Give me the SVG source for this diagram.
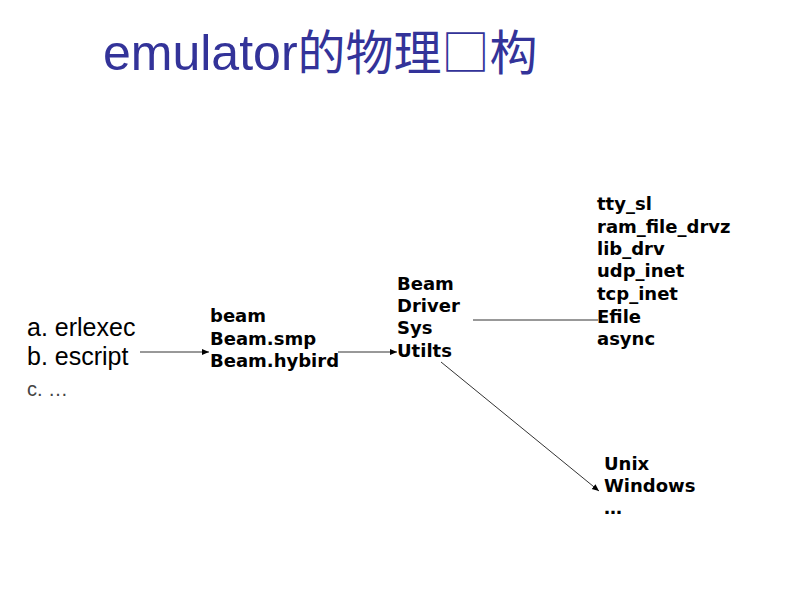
<svg xmlns="http://www.w3.org/2000/svg" width="800" height="600" viewBox="0 0 800 600">
<defs>
<style>
.title{font-family:"Liberation Sans","Noto Sans CJK SC",sans-serif;font-size:50px;fill:#333399}
.cjk{font-family:"Noto Sans CJK SC",sans-serif;font-size:48px}
.lst{font-family:"Liberation Sans",sans-serif;font-size:25px;fill:#000}
.b{font-family:"DejaVu Sans",sans-serif;font-weight:bold;font-size:18px;fill:#000}
.ln{stroke:#333;stroke-width:1;fill:none}
</style>
<marker id="ah" markerWidth="8" markerHeight="8" refX="7" refY="4" orient="auto" markerUnits="userSpaceOnUse">
<path d="M0,1 L7,4 L0,7 Z" fill="#000"/>
</marker>
</defs>
<rect width="800" height="600" fill="#fff"/>
<text class="title" x="103" y="70">emulator<tspan class="cjk">的物理□构</tspan></text>
<g id="launchers">
<text class="lst" x="27" y="336">a. erlexec</text>
<text class="lst" x="27" y="365">b. escript</text>
<text class="lst" x="27" y="396" style="font-size:20px;fill:#444">c. …</text>
</g>
<g id="beam">
<text class="b" x="210" y="322">beam</text>
<text class="b" x="210" y="345">Beam.smp</text>
<text class="b" x="210" y="367">Beam.hybird</text>
</g>
<g id="modules">
<text class="b" x="397" y="290">Beam</text>
<text class="b" x="397" y="312">Driver</text>
<text class="b" x="397" y="334">Sys</text>
<text class="b" x="397" y="357">Utilts</text>
</g>
<g id="drivers">
<text class="b" x="597" y="210">tty_sl</text>
<text class="b" x="597" y="233">ram_file_drvz</text>
<text class="b" x="597" y="255">lib_drv</text>
<text class="b" x="597" y="277">udp_inet</text>
<text class="b" x="597" y="300">tcp_inet</text>
<text class="b" x="597" y="323">Efile</text>
<text class="b" x="597" y="345">async</text>
</g>
<g id="os">
<text class="b" x="604" y="470">Unix</text>
<text class="b" x="604" y="492">Windows</text>
<text class="b" x="604" y="514">…</text>
</g>
<g id="connectors">
<line class="ln" x1="140" y1="352" x2="209" y2="352" marker-end="url(#ah)"/>
<line class="ln" x1="338" y1="352" x2="397" y2="352" marker-end="url(#ah)"/>
<line class="ln" x1="473" y1="320" x2="598" y2="320"/>
<line class="ln" x1="441" y1="362" x2="599" y2="491" marker-end="url(#ah)"/>
</g>
</svg>
